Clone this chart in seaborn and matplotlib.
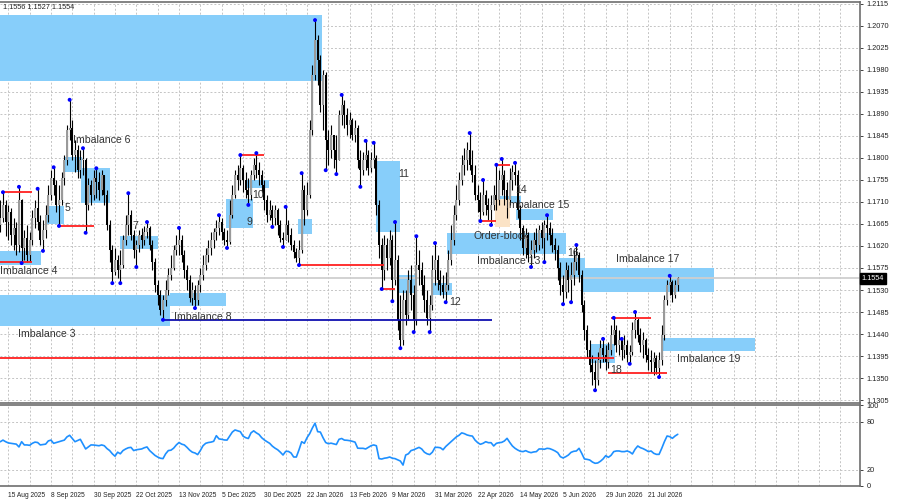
import numpy as np
import pandas as pd
import matplotlib
matplotlib.use("Agg")
import matplotlib.pyplot as plt
import matplotlib.transforms as mtransforms
from matplotlib.patches import Rectangle
import seaborn as sns

# ---------------- data (EURUSD daily) ----------------
first_open = 1.1663
closes = [
    1.1677, 1.1704, 1.1669, 1.1689, 1.1642, 1.1657, 1.1622, 1.1714, 1.1616, 1.1636,
    1.1602, 1.1632, 1.1677, 1.1698, 1.1669, 1.1632, 1.1653, 1.1683, 1.1724, 1.1759,
    1.1745, 1.1704, 1.1714, 1.1759, 1.1796, 1.1857, 1.1861, 1.1806, 1.1816, 1.1775,
    1.1796, 1.1796, 1.1704, 1.1745, 1.1724, 1.1759, 1.1751, 1.1734, 1.1765, 1.1724,
    1.1663, 1.1612, 1.1567, 1.1591, 1.1571, 1.1581, 1.1632, 1.1663, 1.1683, 1.1642,
    1.1612, 1.1622, 1.1642, 1.1632, 1.1649, 1.1657, 1.1622, 1.1587, 1.1540, 1.1520,
    1.1489, 1.1510, 1.1530, 1.1561, 1.1575, 1.1612, 1.1622, 1.1632, 1.1602, 1.1571,
    1.1550, 1.1514, 1.1530, 1.1510, 1.1540, 1.1561, 1.1581, 1.1602, 1.1616, 1.1632,
    1.1649, 1.1657, 1.1669, 1.1649, 1.1632, 1.1628, 1.1683, 1.1724, 1.1765, 1.1755,
    1.1779, 1.1755, 1.1734, 1.1724, 1.1765, 1.1786, 1.1775, 1.1765, 1.1745, 1.1714,
    1.1683, 1.1694, 1.1677, 1.1694, 1.1663, 1.1636, 1.1632, 1.1663, 1.1642, 1.1622,
    1.1608, 1.1595, 1.1612, 1.1734, 1.1694, 1.1724, 1.1857, 1.1970, 1.2041, 1.2000,
    1.1908, 1.1970, 1.1837, 1.1816, 1.1847, 1.1816, 1.1796, 1.1888, 1.1908, 1.1888,
    1.1867, 1.1878, 1.1847, 1.1861, 1.1796, 1.1775, 1.1796, 1.1806, 1.1779, 1.1796,
    1.1800, 1.1704, 1.1622, 1.1571, 1.1622, 1.1595, 1.1632, 1.1550, 1.1591, 1.1469,
    1.1428, 1.1510, 1.1479, 1.1550, 1.1520, 1.1469, 1.1581, 1.1571, 1.1540, 1.1510,
    1.1473, 1.1499, 1.1571, 1.1591, 1.1550, 1.1540, 1.1526, 1.1540, 1.1591, 1.1632,
    1.1683, 1.1714, 1.1755, 1.1786, 1.1796, 1.1816, 1.1786, 1.1765, 1.1724, 1.1714,
    1.1689, 1.1724, 1.1704, 1.1694, 1.1704, 1.1724, 1.1714, 1.1755, 1.1765, 1.1734,
    1.1714, 1.1755, 1.1771, 1.1765, 1.1694, 1.1657, 1.1616, 1.1642, 1.1602, 1.1612,
    1.1632, 1.1622, 1.1653, 1.1636, 1.1663, 1.1657, 1.1642, 1.1622, 1.1612, 1.1575,
    1.1540, 1.1526, 1.1571, 1.1550, 1.1561, 1.1587, 1.1602, 1.1561, 1.1499, 1.1448,
    1.1407, 1.1377, 1.1362, 1.1346, 1.1387, 1.1411, 1.1397, 1.1383, 1.1407, 1.1438,
    1.1448, 1.1417, 1.1428, 1.1407, 1.1417, 1.1397, 1.1403, 1.1448, 1.1469, 1.1438,
    1.1417, 1.1428, 1.1397, 1.1387, 1.1383, 1.1391, 1.1370, 1.1387, 1.1438, 1.1510,
    1.1540, 1.1546, 1.1520, 1.1540, 1.1554,
]
highs = [
    1.1714, 1.1730, 1.1714, 1.1704, 1.1698, 1.1677, 1.1669, 1.1741, 1.1716, 1.1653,
    1.1663, 1.1649, 1.1694, 1.1714, 1.1737, 1.1683, 1.1673, 1.1704, 1.1745, 1.1775,
    1.1781, 1.1755, 1.1745, 1.1771, 1.1806, 1.1867, 1.1919, 1.1878, 1.1837, 1.1826,
    1.1816, 1.1820, 1.1800, 1.1759, 1.1755, 1.1775, 1.1779, 1.1771, 1.1775, 1.1765,
    1.1734, 1.1673, 1.1622, 1.1616, 1.1602, 1.1612, 1.1642, 1.1683, 1.1728, 1.1694,
    1.1653, 1.1632, 1.1653, 1.1657, 1.1661, 1.1669, 1.1661, 1.1632, 1.1595, 1.1550,
    1.1530, 1.1520, 1.1550, 1.1575, 1.1602, 1.1622, 1.1642, 1.1657, 1.1642, 1.1612,
    1.1581, 1.1561, 1.1546, 1.1540, 1.1550, 1.1575, 1.1602, 1.1616, 1.1632, 1.1649,
    1.1657, 1.1673, 1.1683, 1.1677, 1.1657, 1.1653, 1.1714, 1.1745, 1.1775, 1.1786,
    1.1806, 1.1786, 1.1771, 1.1759, 1.1775, 1.1800, 1.1810, 1.1792, 1.1775, 1.1755,
    1.1724, 1.1714, 1.1704, 1.1704, 1.1698, 1.1673, 1.1649, 1.1700, 1.1673, 1.1657,
    1.1632, 1.1616, 1.1632, 1.1769, 1.1745, 1.1751, 1.1878, 1.1990, 1.2082, 1.2051,
    1.2011, 1.1980, 1.1976, 1.1857, 1.1867, 1.1837, 1.1847, 1.1898, 1.1929, 1.1919,
    1.1902, 1.1894, 1.1882, 1.1878, 1.1867, 1.1816, 1.1812, 1.1835, 1.1816, 1.1812,
    1.1831, 1.1806, 1.1714, 1.1636, 1.1642, 1.1636, 1.1653, 1.1642, 1.1669, 1.1602,
    1.1520, 1.1530, 1.1530, 1.1571, 1.1581, 1.1540, 1.1640, 1.1612, 1.1587, 1.1561,
    1.1530, 1.1520, 1.1602, 1.1626, 1.1602, 1.1571, 1.1561, 1.1567, 1.1612, 1.1663,
    1.1704, 1.1745, 1.1771, 1.1806, 1.1820, 1.1833, 1.1851, 1.1816, 1.1786, 1.1745,
    1.1730, 1.1755, 1.1734, 1.1718, 1.1724, 1.1745, 1.1786, 1.1775, 1.1798, 1.1775,
    1.1751, 1.1779, 1.1786, 1.1790, 1.1775, 1.1704, 1.1663, 1.1657, 1.1649, 1.1632,
    1.1649, 1.1657, 1.1663, 1.1669, 1.1673, 1.1683, 1.1669, 1.1657, 1.1636, 1.1622,
    1.1587, 1.1561, 1.1587, 1.1581, 1.1587, 1.1612, 1.1622, 1.1608, 1.1571, 1.1510,
    1.1458, 1.1428, 1.1397, 1.1387, 1.1403, 1.1428, 1.1430, 1.1417, 1.1424, 1.1458,
    1.1473, 1.1458, 1.1448, 1.1430, 1.1438, 1.1428, 1.1417, 1.1465, 1.1485, 1.1473,
    1.1452, 1.1444, 1.1432, 1.1411, 1.1407, 1.1403, 1.1397, 1.1403, 1.1458, 1.1520,
    1.1550, 1.1559, 1.1550, 1.1550, 1.1556,
]
lows = [
    1.1649, 1.1669, 1.1640, 1.1632, 1.1622, 1.1612, 1.1602, 1.1608, 1.1585, 1.1591,
    1.1587, 1.1587, 1.1622, 1.1657, 1.1653, 1.1622, 1.1610, 1.1636, 1.1669, 1.1714,
    1.1724, 1.1689, 1.1661, 1.1704, 1.1745, 1.1786, 1.1837, 1.1796, 1.1771, 1.1759,
    1.1759, 1.1765, 1.1647, 1.1694, 1.1704, 1.1714, 1.1718, 1.1714, 1.1724, 1.1704,
    1.1653, 1.1587, 1.1544, 1.1561, 1.1555, 1.1544, 1.1575, 1.1622, 1.1642, 1.1632,
    1.1595, 1.1577, 1.1608, 1.1616, 1.1622, 1.1636, 1.1612, 1.1571, 1.1526, 1.1499,
    1.1479, 1.1469, 1.1497, 1.1520, 1.1550, 1.1571, 1.1602, 1.1602, 1.1587, 1.1555,
    1.1530, 1.1505, 1.1499, 1.1493, 1.1499, 1.1526, 1.1550, 1.1571, 1.1587, 1.1602,
    1.1616, 1.1632, 1.1642, 1.1632, 1.1622, 1.1616, 1.1624, 1.1677, 1.1718, 1.1734,
    1.1745, 1.1730, 1.1718, 1.1704, 1.1714, 1.1755, 1.1759, 1.1745, 1.1730, 1.1694,
    1.1669, 1.1673, 1.1659, 1.1663, 1.1642, 1.1628, 1.1618, 1.1632, 1.1628, 1.1612,
    1.1595, 1.1587, 1.1581, 1.1606, 1.1663, 1.1683, 1.1718, 1.1847, 1.1959, 1.1949,
    1.1894, 1.1857, 1.1775, 1.1786, 1.1800, 1.1779, 1.1767, 1.1796, 1.1867, 1.1861,
    1.1847, 1.1841, 1.1837, 1.1833, 1.1779, 1.1741, 1.1765, 1.1775, 1.1765, 1.1771,
    1.1779, 1.1683, 1.1595, 1.1532, 1.1550, 1.1571, 1.1581, 1.1507, 1.1540, 1.1448,
    1.1411, 1.1417, 1.1458, 1.1469, 1.1489, 1.1444, 1.1458, 1.1540, 1.1520, 1.1485,
    1.1458, 1.1444, 1.1489, 1.1540, 1.1530, 1.1520, 1.1514, 1.1505, 1.1530, 1.1581,
    1.1622, 1.1673, 1.1704, 1.1745, 1.1765, 1.1775, 1.1775, 1.1751, 1.1714, 1.1689,
    1.1671, 1.1683, 1.1683, 1.1673, 1.1663, 1.1694, 1.1694, 1.1704, 1.1724, 1.1704,
    1.1677, 1.1704, 1.1734, 1.1745, 1.1677, 1.1632, 1.1602, 1.1595, 1.1587, 1.1577,
    1.1595, 1.1608, 1.1612, 1.1616, 1.1587, 1.1632, 1.1622, 1.1608, 1.1591, 1.1550,
    1.1520, 1.1501, 1.1514, 1.1526, 1.1505, 1.1540, 1.1571, 1.1546, 1.1485, 1.1428,
    1.1391, 1.1362, 1.1336, 1.1325, 1.1336, 1.1370, 1.1383, 1.1366, 1.1370, 1.1397,
    1.1417, 1.1403, 1.1397, 1.1387, 1.1391, 1.1383, 1.1379, 1.1397, 1.1432, 1.1424,
    1.1403, 1.1391, 1.1383, 1.1366, 1.1362, 1.1356, 1.1358, 1.1352, 1.1377, 1.1428,
    1.1499, 1.1520, 1.1505, 1.1514, 1.1527,
]
osc = [
    55, 57, 55, 53.5, 53, 52.5, 52, 48.5, 55, 51,
    51, 50.5, 53, 54.5, 54, 51, 51.5, 52, 56, 57,
    53, 54, 55, 56, 57, 61, 63, 59, 55, 56.5,
    58, 52, 46, 48.5, 51, 50.9, 50.5, 50, 51, 50,
    46.5, 44, 40, 37, 42, 40, 44, 46, 47.5, 48,
    44, 45, 45.5, 46, 47.5, 48.5, 44, 41, 38, 36,
    34.5, 34, 40, 44, 44.5, 47, 51, 54, 52, 51,
    48, 44.5, 42, 41, 39, 44, 50, 53, 54, 54.5,
    55.5, 62.5, 58.5, 58, 57.2, 57, 62, 67, 69.6, 68.5,
    67.5, 62, 60, 59, 66, 68.5, 66, 64, 60, 57.2,
    55, 53, 49.5, 47, 45, 42, 38.5, 43, 43, 41,
    36, 36, 45, 55, 53, 60, 65, 72, 78, 67.5,
    67, 60, 54, 52.5, 53.2, 52.4, 51.5, 58, 59, 57,
    56.8, 56.3, 55.5, 54.5, 47, 46.8, 46.8, 46, 48, 50,
    51, 50, 34, 33.5, 34.5, 35, 36, 34.5, 34, 32.5,
    31, 26, 38.5, 40, 44, 45, 46.5, 48, 46, 42,
    40, 39, 42, 48, 48, 47.5, 45, 49, 52, 55,
    58, 61, 63, 66, 65, 63.4, 62.5, 62, 57, 53.8,
    51.8, 53, 55, 53.8, 53.8, 49.7, 53, 53.8, 54.2, 55.9,
    59.2, 54.2, 49.7, 46.8, 44.7, 43.1, 42.7, 43.9, 42.3, 41.4,
    42.3, 42.7, 46, 46, 45.6, 46.8, 46.4, 45.1, 43.5, 41.4,
    36.4, 34.8, 36.4, 38.5, 41.8, 43.1, 43.5, 46.8, 40.6, 33.6,
    33.1, 32.3, 29.8, 28.2, 28.6, 30.7, 33.6, 37.7, 35.6, 38.1,
    42.7, 43.5, 43.5, 42.7, 42.7, 43.5, 42.3, 39.8, 45.6, 49.7,
    47.6, 46.4, 44.7, 42.7, 43.5, 40.6, 39.3, 39.3, 46.8, 55.1,
    62.1, 61.3, 59.2, 62.1, 64.2,
]

date_ticks = [3, 19, 35, 51, 67, 83, 99, 115, 131, 147, 163, 179, 195, 211, 227, 243]
date_labels = ["15 Aug 2025", "8 Sep 2025", "30 Sep 2025", "22 Oct 2025", "13 Nov 2025",
               "5 Dec 2025", "30 Dec 2025", "22 Jan 2026", "13 Feb 2026", "9 Mar 2026",
               "31 Mar 2026", "22 Apr 2026", "14 May 2026", "5 Jun 2026", "29 Jun 2026",
               "21 Jul 2026"]
price_tick_labels = ["1.2115", "1.2070", "1.2025", "1.1980", "1.1935", "1.1890", "1.1845",
                     "1.1800", "1.1755", "1.1710", "1.1665", "1.1620", "1.1575", "1.1530",
                     "1.1485", "1.1440", "1.1395", "1.1350", "1.1305"]
osc_tick_labels = ["100", "80", "20", "0"]

high_fractals = [1, 7, 14, 20, 26, 31, 36, 48, 55, 67, 82, 90, 96, 107, 113, 118, 128, 137,
                 140, 148, 156, 163, 176, 181, 186, 188, 193, 205, 216, 226, 230, 233, 238, 251]
low_fractals = [8, 16, 22, 32, 42, 45, 51, 61, 73, 85, 93, 102, 106, 112, 122, 126, 135, 143,
                147, 150, 155, 161, 167, 180, 184, 199, 204, 211, 214, 223, 236, 247]

# zones: bar start, bar end, top price, bottom price
zone_start = [-1, 0, 63.8, 0, 17, 23.8, 30.1, 45, 84.7, 92.5, 111.6, 140.7, 148.6, 161.6,
              167.6, 187.4, 193.4, 209.1, 217.7, 221.4, 247.6]
zone_end = [120.5, 63.8, 84.7, 15.2, 23.8, 30.5, 41, 59, 94.8, 100.7, 116.8, 149.7, 156,
            169.5, 212, 195.3, 207.2, 219.2, 267.7, 230.4, 283]
zone_top = [1.2092, 1.1520, 1.1524, 1.1610, 1.1702, 1.1802, 1.1779, 1.1640, 1.1716, 1.1755,
            1.1675, 1.1794, 1.1561, 1.1544, 1.1647, 1.1722, 1.1696, 1.1595, 1.1575, 1.1420,
            1.1432]
zone_bottom = [1.1957, 1.1456, 1.1497, 1.1581, 1.1665, 1.1771, 1.1708, 1.1614, 1.1657, 1.1739,
               1.1644, 1.1649, 1.1524, 1.1520, 1.1604, 1.1708, 1.1673, 1.1554, 1.1526, 1.1381,
               1.1405]
ob_start, ob_end, ob_top, ob_bottom = 185.5, 191.1, 1.1716, 1.1659

# horizontal levels
level_start = [1, 0, 22, 90, 112, 143, 186, 180, 229, 228, 0, 61]
level_end = [12, 12, 35, 99, 144, 148, 191, 186, 244, 250, 230, 184.5]
level_price = [1.1730, 1.1587, 1.1661, 1.1806, 1.1581, 1.1532, 1.1786, 1.1671, 1.1473,
               1.1360, 1.1391, 1.1469]
level_color = ["red"] * 11 + ["navy"]

label_text = ["Imbalance 6", "5", "Imbalance 4", "7", "Imbalance 3", "Imbalance 8", "9", "10",
              "11", "12", "14", "Imbalance 15", "Order-block", "Imbalance 13", "16",
              "Imbalance 17", "18", "Imbalance 19"]
label_x = [27.2, 24.2, -0.1, 49.6, 6.6, 65.3, 92.2, 94.4, 149.3, 168.4, 193.0, 189.7, 177.3,
           178.8, 212.4, 230.7, 228.5, 253.9]
label_y = [1.1837, 1.1698, 1.1569, 1.1661, 1.1440, 1.1475, 1.1669, 1.1724, 1.1767, 1.1505,
           1.1734, 1.1704, 1.1640, 1.1589, 1.1606, 1.1593, 1.1366, 1.1389]

last_price = 1.1554
header = "1.1556 1.1527 1.1554"

# ---------------- drawing ----------------
sns.set_style("white")
plt.rcParams["font.family"] = ["Liberation Sans", "DejaVu Sans"]

n = len(closes)
idx = np.arange(n)
opens = [first_open] + closes[:-1]
df = pd.DataFrame({"i": idx, "open": opens, "high": highs, "low": lows, "close": closes,
                   "osc": osc})
df["up"] = df["close"] >= df["open"]

fig = plt.figure(figsize=(9, 5), dpi=100)
ax = fig.add_axes([0, 0.194, 0.9556, 0.802])
ax2 = fig.add_axes([0, 0.028, 0.9556, 0.162])

xmin, xmax = -0.112, 322.35
grid_kw = dict(color="#c4c4c4", lw=0.7, ls=(0, (2, 2)), zorder=0)
vgrid = np.arange(3, 323, 8)
price_ticks = [float(s) for s in price_tick_labels]

for a in (ax, ax2):
    a.set_xlim(xmin, xmax)
    for g in vgrid:
        a.axvline(g, **grid_kw)
for p in price_ticks:
    ax.axhline(p, **grid_kw)
for v in (20, 80):
    ax2.axhline(v, **grid_kw)

ax.set_ylim(1.12989, 1.2119)
ax2.set_ylim(0, 100.6)

# zones
for x0, x1, t, b in zip(zone_start, zone_end, zone_top, zone_bottom):
    ax.add_patch(Rectangle((x0, b), x1 - x0, t - b, facecolor="#87cefa", edgecolor="none",
                           zorder=1))
ax.add_patch(Rectangle((ob_start, ob_bottom), ob_end - ob_start, ob_top - ob_bottom,
                       facecolor="#fbe3c6", edgecolor="none", zorder=1.1))

# current price line
ax.axhline(last_price, color="#cfcfcf", lw=1.3, zorder=1.5)

# candles
ax.vlines(df["i"], df["low"], df["high"], color="black", lw=0.8, zorder=3)
up = df[df["up"]]
dn = df[~df["up"]]
ax.bar(up["i"], np.maximum(up["close"] - up["open"], 0.00018), bottom=up["open"],
       width=0.75, color="#9a9a9a", edgecolor="none", antialiased=False, zorder=3.2)
ax.bar(dn["i"], np.minimum(dn["close"] - dn["open"], -0.00018), bottom=dn["open"],
       width=0.75, color="black", edgecolor="none", antialiased=False, zorder=3.2)

# levels
for x0, x1, p, c in zip(level_start, level_end, level_price, level_color):
    col = "#ff2020" if c == "red" else "#1010b0"
    ax.hlines(p, x0, x1, color=col, lw=1.3, zorder=4)

# fractal dots
fx = high_fractals + low_fractals
fy = [highs[i] for i in high_fractals] + [lows[i] for i in low_fractals]
sns.scatterplot(x=fx, y=fy, ax=ax, color="#0000ff", s=8, edgecolor="none", zorder=5,
                legend=False)

# labels
for t, x, y in zip(label_text, label_x, label_y):
    ax.text(x, y, t, ha="left", va="center", fontsize=7.6, color="#333333", zorder=6)

# price axis
ax.yaxis.tick_right()
ax.set_yticks(price_ticks)
ax.set_yticklabels(price_tick_labels)
ax.tick_params(axis="y", labelsize=5.3, length=2.5, pad=2, colors="#222222", width=0.6)
ax.set_xticks([])
ax.set_xlabel("")
ax.set_ylabel("")
ax.spines["left"].set_visible(False)
for s in ("top", "right", "bottom"):
    ax.spines[s].set_color("#6e6e6e")
    ax.spines[s].set_linewidth(1.2)

trans = mtransforms.blended_transform_factory(ax.transAxes, ax.transData)
ax.text(1.002, last_price, f"{last_price:.4f}", transform=trans, ha="left", va="center",
        fontsize=5.3, color="white", zorder=7,
        bbox=dict(boxstyle="square,pad=0.25", facecolor="black", edgecolor="black"))
fig.text(0.003, 0.985, header, fontsize=5.3, color="#222222", ha="left", va="center")

# oscillator
sns.lineplot(x=df["i"], y=df["osc"], ax=ax2, color="#1e90ff", lw=1.2, zorder=3)
ax2.set_xlabel("")
ax2.set_ylabel("")
ax2.yaxis.tick_right()
ax2.set_yticks([float(s) for s in osc_tick_labels])
ax2.set_yticklabels(osc_tick_labels)
ax2.tick_params(axis="y", labelsize=5.3, length=2.5, pad=2, colors="#222222", width=0.6)
ax2.set_xticks(date_ticks)
ax2.set_xticklabels(date_labels, ha="left")
ax2.tick_params(axis="x", labelsize=4.8, length=2.5, pad=1.5, colors="#222222", width=0.6)
ax2.spines["left"].set_visible(False)
for s in ("top", "right", "bottom"):
    ax2.spines[s].set_color("#6e6e6e")
    ax2.spines[s].set_linewidth(1.2)

fig.savefig("out.png", dpi=100, facecolor="white")
